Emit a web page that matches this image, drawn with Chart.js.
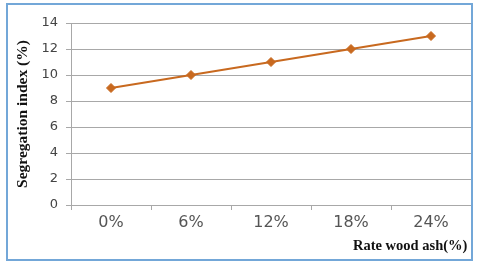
<!DOCTYPE html>
<html>
<head>
<meta charset="utf-8">
<script src="https://cdn.jsdelivr.net/npm/chart.js@4/dist/chart.umd.min.js"></script>
<style>
  html, body { margin: 0; padding: 0; background: #fff; }
  #wrap { position: relative; width: 480px; height: 268px; }
  #frame {
    position: absolute; left: 6px; top: 3px; width: 463px; height: 254px;
    border: 2px solid #73a7d8; pointer-events: none;
  }
</style>
</head>
<body>
<div id="wrap">
  <canvas id="chart" width="480" height="268"></canvas>
  <div id="frame"></div>
</div>
<script>
// ---------- Data ----------
const categories = ['0%', '6%', '12%', '18%', '24%'];
const segregation = [9, 10, 11, 12, 13];
const yTicks = [0, 2, 4, 6, 8, 10, 12, 14];

const lineColor = '#c8691f';
const gridColor = '#a8a8a8';

new Chart(document.getElementById('chart'), {
  type: 'line',
  data: {
    labels: categories,
    datasets: [{
      label: 'Segregation index',
      data: segregation,
      borderColor: lineColor,
      backgroundColor: lineColor,
      borderWidth: 2,
      tension: 0,
      pointStyle: 'rectRot',
      pointRadius: 4.5,
      pointBorderWidth: 1,
      pointBackgroundColor: lineColor,
    }],
  },
  options: {
    responsive: false,
    animation: false,
    layout: { padding: { left: 8, top: 23, right: 9, bottom: 11 } },
    plugins: { legend: { display: false }, tooltip: { enabled: false } },
    scales: {
      x: {
        offset: true,
        afterFit: s => { s.height = 52; },
        grid: {
          offset: true,
          drawOnChartArea: false,
          drawTicks: true,
          tickLength: 5,
          color: gridColor,
        },
        border: { color: gridColor },
        ticks: {
          color: '#555',
          font: { family: 'DejaVu Sans', size: 16 },
          padding: 3,
        },
        title: {
          display: true,
          // trailing nbsp keeps the right-aligned title off the frame
          text: 'Rate wood ash(%)\u00a0',
          align: 'end',
          color: '#111',
          font: { family: 'Liberation Serif', size: 14.5, weight: 'bold' },
          padding: { top: 2, bottom: 2 },
        },
      },
      y: {
        min: 0,
        max: 14,
        afterFit: s => { s.width = 63; },
        afterBuildTicks: s => { s.ticks = yTicks.map(v => ({ value: v })); },
        grid: { color: gridColor, tickLength: 5 },
        border: { color: gridColor },
        ticks: {
          color: '#444',
          font: { family: 'DejaVu Sans', size: 13 },
          padding: 8,
        },
        title: {
          display: true,
          text: 'Segregation index (%)',
          color: '#111',
          font: { family: 'Liberation Serif', size: 15.5, weight: 'bold' },
          padding: { top: 6, bottom: 0 },
        },
      },
    },
  },
});
</script>
</body>
</html>
